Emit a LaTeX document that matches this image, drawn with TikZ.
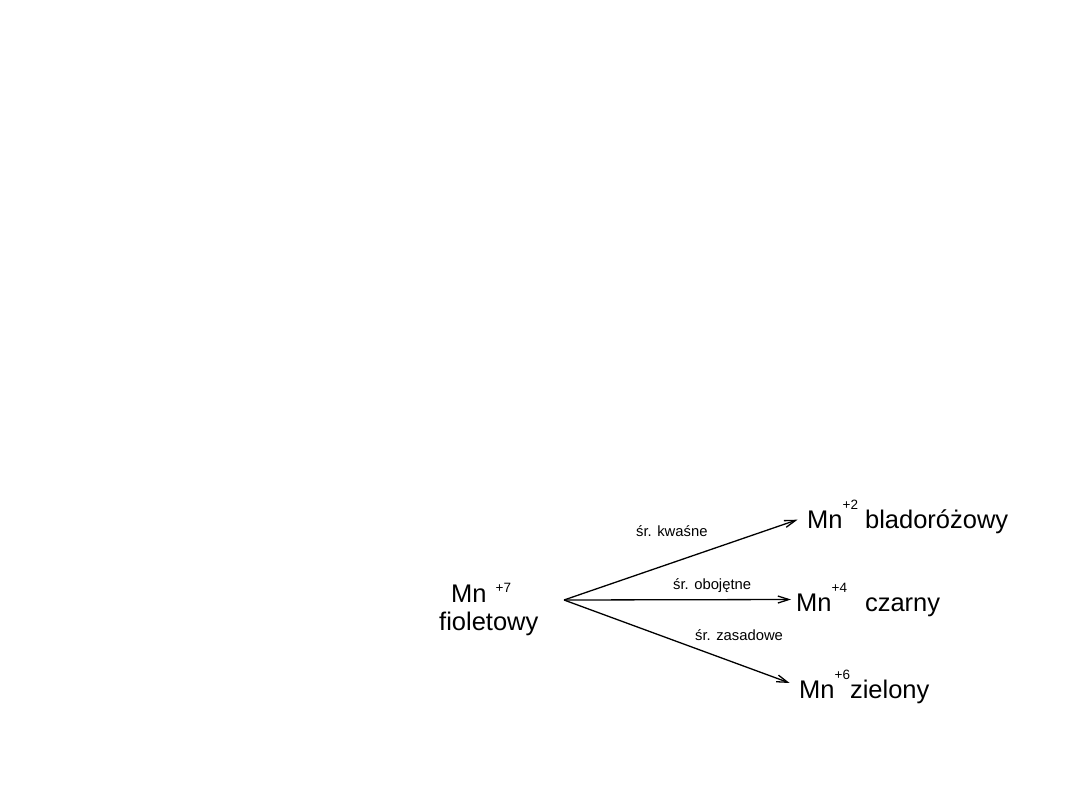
\documentclass[tikz,border=0pt]{standalone}
\usepackage{fontspec}
\setmainfont{Liberation Sans}
\usetikzlibrary{arrows.meta}
\newcommand{\ox}[2][19pt]{\raisebox{#1}{\fontsize{13.5}{13.5}\selectfont #2}}
\tikzset{
  ion/.style={anchor=base west, inner sep=0pt, font=\fontsize{25.5}{25.5}\selectfont},
  cond/.style={anchor=base west, inner sep=0pt, font=\fontsize{14.8}{14.8}\selectfont},
  arr/.style={-{Straight Barb[length=11pt, width=7pt]}, line width=1.3pt, shorten >=10pt},
}

\begin{document}
\begin{tikzpicture}[x=1pt, y=-1pt]
  \useasboundingbox (0,0) rectangle (1080,810);
  \node[ion] (mn7) at (451,602) {Mn\hspace{9pt}\ox[10pt]{+7}};
  \node[ion] (fiol) at (439,630) {fioletowy};
  \coordinate (src) at (564,600);
  \node[ion] (mn2) at (807,528) {Mn\ox{+2} bladoróżowy};
  \node[ion] (mn4) at (796,611) {Mn\ox{+4}\hspace{18pt}czarny};
  \node[ion] (mn6) at (799,698) {Mn\ox{+6}zielony};
  \node[cond] (kw) at (636,536) {śr. kwaśne};
  \node[cond] (ob) at (673,589) {śr. obojętne};
  \node[cond] (za) at (695,640) {śr. zasadowe};
  \draw[arr] (src) -- (mn2.west);
  \draw[arr, shorten >=5pt] (src) -- (mn4.west);
  \draw[arr] (src) -- (mn6.west);
\end{tikzpicture}
\end{document}
